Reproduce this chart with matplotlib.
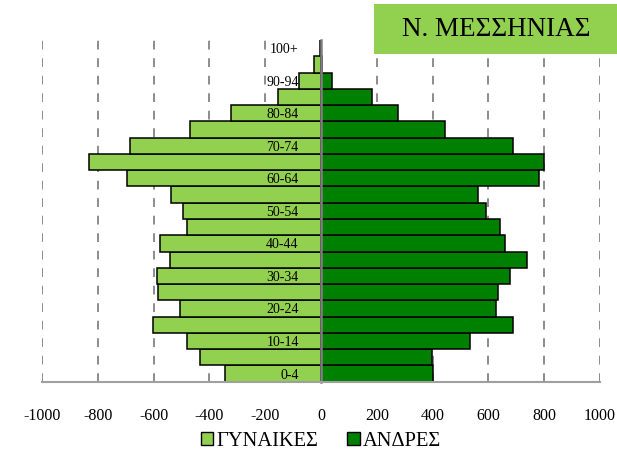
import matplotlib
matplotlib.use('Agg')
import matplotlib.pyplot as plt
from matplotlib.patches import Patch, Rectangle

plt.rcParams['font.family'] = ['Liberation Serif', 'DejaVu Serif']

# Age groups, youngest first (bottom of the pyramid)
age_groups = ['0-4', '5-9', '10-14', '15-19', '20-24', '25-29', '30-34',
              '35-39', '40-44', '45-49', '50-54', '55-59', '60-64', '65-69',
              '70-74', '75-79', '80-84', '85-89', '90-94', '95-99', '100+']

women = [343, 434, 480, 601, 506, 583, 589, 540, 576, 480, 495, 538,
         694, 833, 686, 468, 322, 155, 78, 25, 2]
men = [400, 398, 533, 687, 628, 633, 679, 737, 658, 641, 590, 564,
       781, 800, 687, 444, 276, 182, 41, 3, 1]

x_ticks = [-1000, -800, -600, -400, -200, 0, 200, 400, 600, 800, 1000]
title = 'Ν. ΜΕΣΣΗΝΙΑΣ'

LIGHT = '#92d050'
DARK = '#008000'

fig = plt.figure(figsize=(6.17, 4.53), dpi=100)
ax = fig.add_axes([0.068, 0.1574, 0.9044, 0.7543])
ax.set_axisbelow(False)

pos = list(range(len(age_groups)))
ax.barh(pos, [-w for w in women], height=1.0, color=LIGHT,
        edgecolor='black', linewidth=1.1, label='ΓΥΝΑΙΚΕΣ', zorder=2)
ax.barh(pos, men, height=1.0, color=DARK,
        edgecolor='black', linewidth=1.1, label='ΑΝΔΡΕΣ', zorder=2)

ax.set_xlim(-1000, 1000)
ax.set_ylim(-0.5, len(age_groups) - 0.5)
ax.set_xticks(x_ticks)
ax.set_xticklabels([str(v) for v in x_ticks], fontsize=11.5)

# every second age group gets a label, drawn next to the zero line
ax.set_yticks(pos[::2])
ax.set_yticklabels(age_groups[::2], fontsize=11.5)
ax.spines['left'].set_position(('data', 0))
ax.spines['left'].set_color('#808080')
ax.spines['left'].set_linewidth(1.8)
ax.spines['bottom'].set_color('#a0a0a0')
ax.spines['bottom'].set_linewidth(1.5)
ax.spines['bottom'].set_bounds(-1000, 1000)
ax.spines[['top', 'right']].set_visible(False)
ax.tick_params(axis='y', length=0, pad=16)
ax.tick_params(axis='x', length=0, pad=19)

for v in x_ticks:
    if v != 0:
        ax.axvline(v, color='#8c8c8c', linewidth=1.4,
                   linestyle=(0, (4.5, 4.5)), zorder=1)

ax.legend(handles=[Patch(facecolor=LIGHT, edgecolor='black', linewidth=1.0, label='ΓΥΝΑΙΚΕΣ'),
                   Patch(facecolor=DARK, edgecolor='black', linewidth=1.0, label='ΑΝΔΡΕΣ')],
          loc='center', bbox_to_anchor=(321 / 617, 1 - 441 / 453),
          bbox_transform=fig.transFigure,
          ncol=2, frameon=False, fontsize=14.8, handlelength=0.6, handleheight=0.6,
          handletextpad=0.15, columnspacing=1.4)

# title box in the upper right corner
fig.patches.append(Rectangle((374 / 617, 1 - 54 / 453), 1 - 374 / 617, 50 / 453,
                             transform=fig.transFigure, facecolor=LIGHT,
                             edgecolor='none', zorder=5))
fig.text(496 / 617, 1 - 29 / 453, title, ha='center', va='center',
         fontsize=19.5, zorder=6)

fig.savefig('out.png', dpi=100, facecolor='white')
